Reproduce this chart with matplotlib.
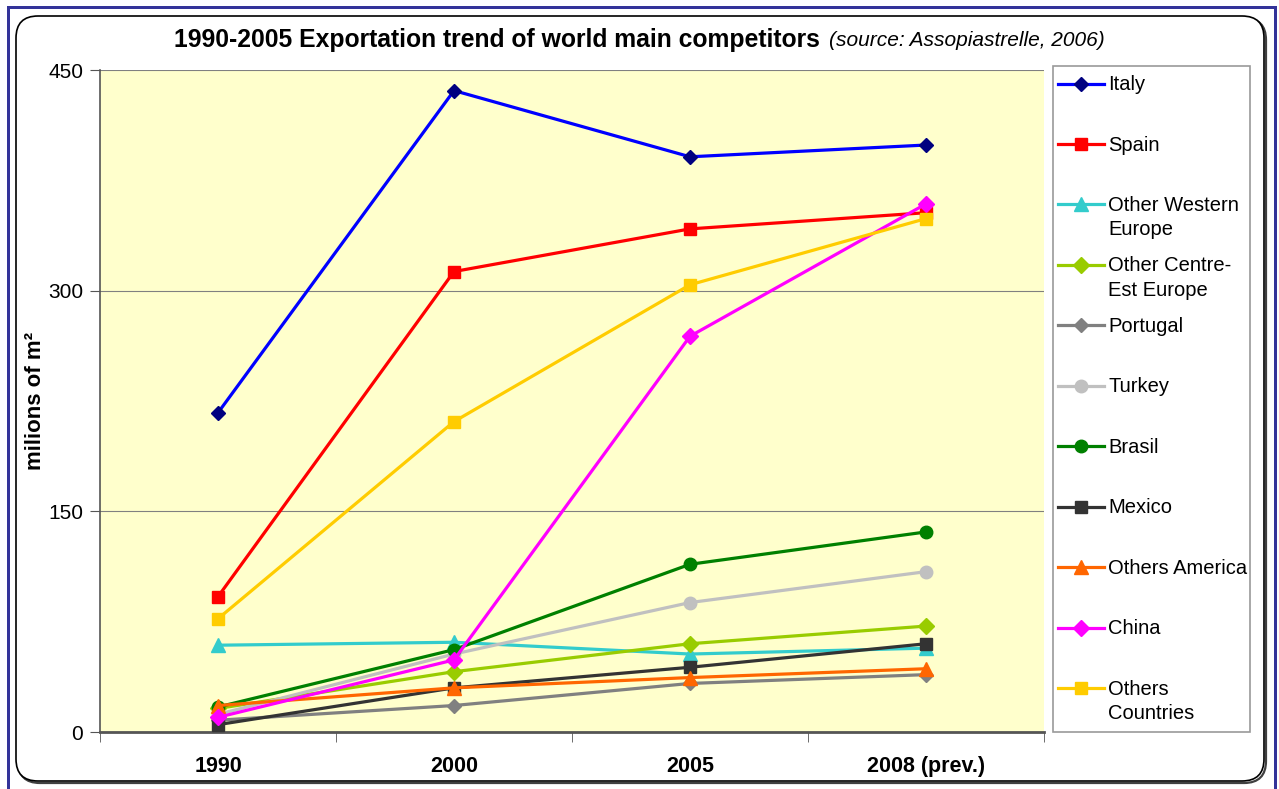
import matplotlib
matplotlib.use("Agg")
import matplotlib.pyplot as plt
from matplotlib.patches import FancyBboxPatch, Rectangle
from matplotlib.legend_handler import HandlerLine2D

plt.rcParams['font.family'] = ['Liberation Sans', 'DejaVu Sans']

categories = ["1990", "2000", "2005", "2008 (prev.)"]

italy = [217, 436, 391, 399]
spain = [92, 313, 342, 353]
other_western_europe = [59, 61, 53, 57]
other_centre_est_europe = [16, 41, 60, 72]
portugal = [8, 18, 33, 39]
turkey = [12, 53, 88, 109]
brasil = [17, 56, 114, 136]
mexico = [5, 30, 44, 60]
others_america = [18, 30, 37, 43]
china = [10, 49, 269, 359]
others_countries = [77, 211, 304, 349]

series_names = ["Italy", "Spain", "Other Western\nEurope", "Other Centre-\nEst Europe",
                "Portugal", "Turkey", "Brasil", "Mexico", "Others America", "China",
                "Others\nCountries"]
series_values = [italy, spain, other_western_europe, other_centre_est_europe, portugal,
                 turkey, brasil, mexico, others_america, china, others_countries]
line_colors = ["#0000FF", "#FF0000", "#33CCCC", "#99CC00", "#808080", "#C0C0C0",
               "#008000", "#333333", "#FF6600", "#FF00FF", "#FFCC00"]
marker_colors = ["#000080", "#FF0000", "#33CCCC", "#99CC00", "#808080", "#C0C0C0",
                 "#008000", "#333333", "#FF6600", "#FF00FF", "#FFCC00"]
markers = ["D", "s", "^", "D", "D", "o", "o", "s", "^", "D", "s"]
marker_sizes = [7.5, 9, 10, 8, 7.5, 9, 9, 9, 10, 8, 9]
y_ticks = [0, 150, 300, 450]

W, H = 1279, 789
fig = plt.figure(figsize=(W / 100, H / 100), dpi=100)

# background frame axes in pixel coords
bg = fig.add_axes([0, 0, 1, 1], zorder=0)
bg.set_xlim(0, W)
bg.set_ylim(H, 0)
bg.axis("off")
blue = "#333399"
bg.add_patch(Rectangle((7, 6), 3, H, color=blue, lw=0))
bg.add_patch(Rectangle((7, 6), W - 10, 3, color=blue, lw=0))
bg.add_patch(Rectangle((W - 5, 6), 3, H, color=blue, lw=0))
bg.add_patch(FancyBboxPatch((18, 18), 1248, 765, boxstyle="round,pad=0,rounding_size=22",
                            fc="none", ec="#404040", lw=1.6))
bg.add_patch(FancyBboxPatch((16, 16), 1248, 765, boxstyle="round,pad=0,rounding_size=22",
                            fc="white", ec="black", lw=1.2))

ax = fig.add_axes([100 / W, (H - 732) / H, (1044 - 100) / W, (732 - 70) / H], zorder=1)
ax.set_facecolor("#FFFFCC")
x = list(range(len(categories)))
for name, vals, lc, mc, mk, ms in zip(series_names, series_values, line_colors,
                                      marker_colors, markers, marker_sizes):
    label = name if "\n" in name else name + "\n "
    ax.plot(x, vals, color=lc, lw=2.3, marker=mk, markersize=ms,
            markerfacecolor=mc, markeredgecolor=mc, label=label, clip_on=False, zorder=3)

ax.set_xlim(-0.5, len(categories) - 0.5)
ax.set_ylim(0, 450)
ax.set_yticks(y_ticks)
ax.set_yticklabels([str(t) for t in y_ticks], fontsize=15)
ax.set_xticks(x)
ax.set_xticklabels(categories, fontsize=15.5, fontweight="bold")
ax.set_xticks([i - 0.5 for i in range(len(categories) + 1)], minor=True)
ax.tick_params(axis="x", which="major", length=0, pad=17)
ax.tick_params(axis="x", which="minor", length=7, direction="out", color="#555555")
ax.tick_params(axis="y", length=7, direction="out", color="#555555", pad=5)
ax.grid(axis="y", color="#808080", lw=0.8)
ax.set_axisbelow(True)
for s in ["top", "right"]:
    ax.spines[s].set_visible(False)
ax.spines["left"].set_color("#555555")
ax.spines["bottom"].set_color("#555555")
ax.spines["left"].set_linewidth(1.2)
ax.spines["bottom"].set_linewidth(2)
ax.set_ylabel("milions of m²", fontsize=16, fontweight="bold")
ax.yaxis.set_label_coords((46 - 100) / 944, 0.5)

# title
ty = (H - 40) / H
fig.text(827 / W, ty, "1990-2005 Exportation trend of world main competitors ",
         ha="right", va="center", fontsize=17.8, fontweight="bold")
fig.text(829 / W, ty, "(source: Assopiastrelle, 2006)",
         ha="left", va="center", fontsize=15, style="italic")


class FirstLineHandler(HandlerLine2D):
    """Put the legend handle level with the first line of a two-line label."""
    def __init__(self, shift_factor, left_px, **kw):
        super().__init__(**kw)
        self.shift_factor = shift_factor
        self.left_px = left_px

    def create_artists(self, legend, orig_handle, xdescent, ydescent, width, height,
                       fontsize, trans):
        shift = self.shift_factor * fontsize
        return super().create_artists(legend, orig_handle, xdescent + self.left_px,
                                      ydescent - shift, width, height, fontsize, trans)


handles, labels = ax.get_legend_handles_labels()
leg = fig.legend(handles, labels, loc="upper left",
                 bbox_to_anchor=(1053 / W, (H - 66) / H, (1250 - 1053) / W, 0),
                 mode="expand", fontsize=14.5, frameon=True, fancybox=False,
                 edgecolor="#808080", handlelength=2.3, handletextpad=0.0,
                 labelspacing=0.855, borderpad=0.45, borderaxespad=0,
                 handler_map={h: FirstLineHandler(1.35, 3) for h in handles})
for t in leg.get_texts():
    t.set_linespacing(1.35)
leg.get_frame().set_linewidth(1.2)

fig.savefig("out.png", dpi=100, facecolor="white")
